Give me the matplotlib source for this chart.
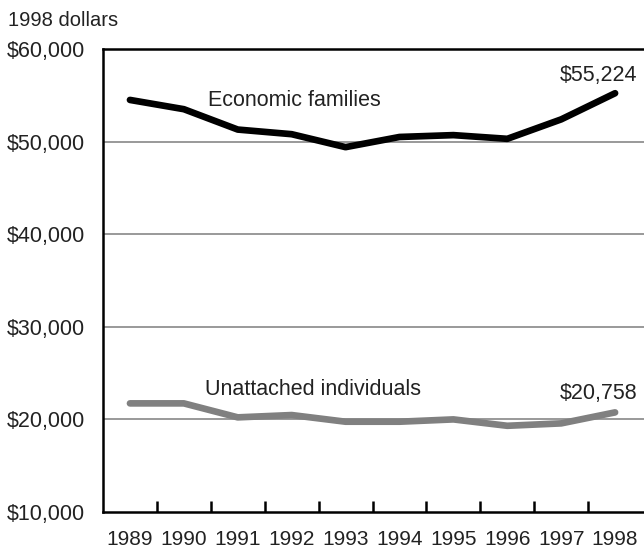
import matplotlib
matplotlib.use("Agg")
import matplotlib.pyplot as plt

years = ["1989", "1990", "1991", "1992", "1993", "1994", "1995", "1996", "1997", "1998"]
economic_families = [54500, 53500, 51300, 50800, 49400, 50500, 50700, 50300, 52400, 55224]
unattached_individuals = [21730, 21730, 20220, 20470, 19750, 19750, 20000, 19310, 19570, 20758]
y_ticks = [10000, 20000, 30000, 40000, 50000, 60000]
y_tick_labels = ["$10,000", "$20,000", "$30,000", "$40,000", "$50,000", "$60,000"]

plt.rcParams['font.family'] = ['Liberation Sans', 'DejaVu Sans']
txt = "#222222"

fig = plt.figure(figsize=(6.44, 5.54), dpi=100)
W, H = 644, 554
left, right, top, bottom = 103, 644, 49, 512
ax = fig.add_axes([left / W, 1 - bottom / H, (right - left) / W, (bottom - top) / H])

x = list(range(len(years)))
ax.set_xlim(-0.5, (644 - 130) / 53.9)
ax.set_ylim(10000, 60000)

for yv in [20000, 30000, 40000, 50000]:
    ax.axhline(yv, color="#999999", lw=1.4, zorder=1)

ax.plot(x, economic_families, color="black", lw=4.8, solid_capstyle="round",
        solid_joinstyle="round", zorder=3)
ax.plot(x, unattached_individuals, color="#808080", lw=4.8, solid_capstyle="round",
        solid_joinstyle="round", zorder=3)

for s in ["left", "bottom", "top"]:
    ax.spines[s].set_linewidth(1.8)
    ax.spines[s].set_color("black")
ax.spines["right"].set_visible(False)

ax.set_yticks(y_ticks)
ax.set_yticklabels(y_tick_labels, fontsize=15.5, color=txt)
ax.tick_params(axis="y", length=0, pad=13)

ax.set_xticks([i + 0.5 for i in range(len(years) - 1)])
ax.set_xticklabels([])
ax.set_xticks(x, minor=True)
ax.set_xticklabels(years, minor=True, fontsize=15, color=txt)
ax.tick_params(axis="x", which="major", direction="in", length=8, width=1.8)
ax.tick_params(axis="x", which="minor", length=0, pad=13)

ax.text(1.45, 54400, "Economic families", fontsize=15.5, color=txt, va="center", ha="left")
ax.text(1.39, 23280, "Unattached individuals", fontsize=15.5, color=txt, va="center", ha="left")
ax.text(9.42, 57100, "$55,224", fontsize=15.5, color=txt, va="center", ha="right")
ax.text(9.42, 22850, "$20,758", fontsize=15.5, color=txt, va="center", ha="right")

fig.text(8 / W, 1 - 20 / H, "1998 dollars", fontsize=14.5, color=txt, va="center", ha="left")

fig.savefig("out.png", dpi=100)
